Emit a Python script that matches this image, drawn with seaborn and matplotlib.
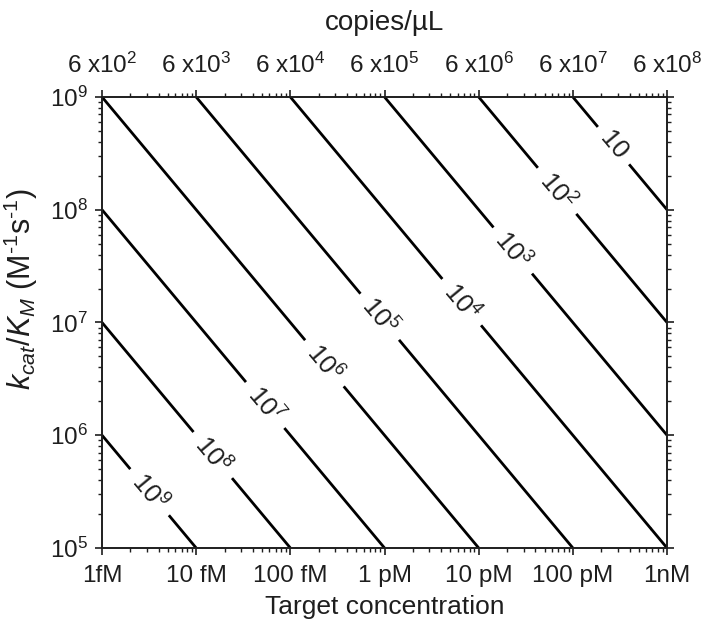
import numpy as np
import matplotlib
matplotlib.use("Agg")
import matplotlib.pyplot as plt
import seaborn as sns

# ==========================
# DATA
# ==========================
# target concentration (M) at bottom ticks, and matching copies/uL on top
conc_ticks = [1e-15, 1e-14, 1e-13, 1e-12, 1e-11, 1e-10, 1e-9]
conc_labels = ["1fM", "10 fM", "100 fM", "1 pM", "10 pM", "100 pM", "1nM"]
copies_labels = [r"6 x10$^{%d}$" % n for n in [2, 3, 4, 5, 6, 7, 8]]

# kcat/KM range (M^-1 s^-1)
kcat_km_range = [1e5, 1e9]

# contour levels: time (s) = 1 / (kcat/KM * [target])
time_levels = [1e1, 1e2, 1e3, 1e4, 1e5, 1e6, 1e7, 1e8, 1e9]
level_text = ["10", r"10$^{2}$", r"10$^{3}$", r"10$^{4}$", r"10$^{5}$",
              r"10$^{6}$", r"10$^{7}$", r"10$^{8}$", r"10$^{9}$"]
# concentration at which each level's label sits
label_conc = [2.7e-10, 6.8e-11, 2.3e-11, 6.6e-12, 8.9e-13,
              2.3e-13, 5.4e-14, 1.5e-14, 3.2e-15]

# ==========================
# STYLE
# ==========================
sns.set_theme(style="ticks")
ink = "#1e1e1e"
plt.rcParams["font.family"] = ["Liberation Sans", "DejaVu Sans"]
plt.rcParams["mathtext.fontset"] = "custom"
plt.rcParams["mathtext.rm"] = "Liberation Sans"
plt.rcParams["mathtext.it"] = "Liberation Sans:italic"
plt.rcParams["mathtext.default"] = "regular"
plt.rcParams["axes.linewidth"] = 1.2
plt.rcParams["text.color"] = ink
plt.rcParams["axes.labelcolor"] = ink
plt.rcParams["axes.edgecolor"] = ink
plt.rcParams["xtick.color"] = ink
plt.rcParams["ytick.color"] = ink

# ==========================
# GRID + CONTOUR
# ==========================
C = np.logspace(np.log10(conc_ticks[0]), np.log10(conc_ticks[-1]), 500)
K = np.logspace(np.log10(kcat_km_range[0]), np.log10(kcat_km_range[1]), 500)
CC, KK = np.meshgrid(C, K)
Z = 1.0 / (CC * KK)

fig = plt.figure(figsize=(7.06, 6.21), dpi=100)
ax = fig.add_axes([0.1445, 0.1176, 0.8003, 0.7262])
ax.set_xscale("log")
ax.set_yscale("log")

cs = ax.contour(CC, KK, Z, levels=time_levels, colors="black", linewidths=2.0)
ax.set_xlim(conc_ticks[0], conc_ticks[-1])
ax.set_ylim(*kcat_km_range)

fmt = dict(zip(cs.levels, level_text))
positions = [(c, 1.0 / (lv * c)) for c, lv in zip(label_conc, time_levels)]
ax.clabel(cs, fmt=fmt, manual=positions, inline=True, fontsize=18.5,
          inline_spacing=10, colors=ink)

# ==========================
# AXES
# ==========================
ax.set_xticks(conc_ticks)
ax.set_xticklabels(conc_labels)
ax.set_yticks([1e5, 1e6, 1e7, 1e8, 1e9])
ax.tick_params(axis="both", which="major", direction="out", length=5,
               width=1.2, labelsize=17.5, right=True, top=False)
ax.tick_params(axis="x", which="major", pad=7)
ax.tick_params(axis="y", which="major", pad=5)
ax.tick_params(axis="both", which="minor", direction="out", length=3,
               width=1.0, right=True, top=False)
ax.set_xlabel("Target concentration", fontsize=19, labelpad=6)
ax.set_ylabel(r"$\mathit{k_{cat}/K_M}$ (M$^{\text{-}1}$s$^{\text{-}1}$)",
              fontsize=22)
ax.yaxis.set_label_coords(-0.11, 0.575)

ax2 = ax.twiny()
ax2.set_xscale("log")
ax2.set_xlim(ax.get_xlim())
ax2.set_xticks(conc_ticks)
ax2.set_xticklabels(copies_labels)
ax2.tick_params(axis="x", which="major", direction="out", length=5,
                width=1.2, labelsize=17.5, pad=9)
ax2.tick_params(axis="x", which="minor", direction="out", length=3, width=1.0)
ax2.set_xlabel("copies/\u00b5L", fontsize=20, labelpad=16)

fig.savefig("out.png", dpi=100)
